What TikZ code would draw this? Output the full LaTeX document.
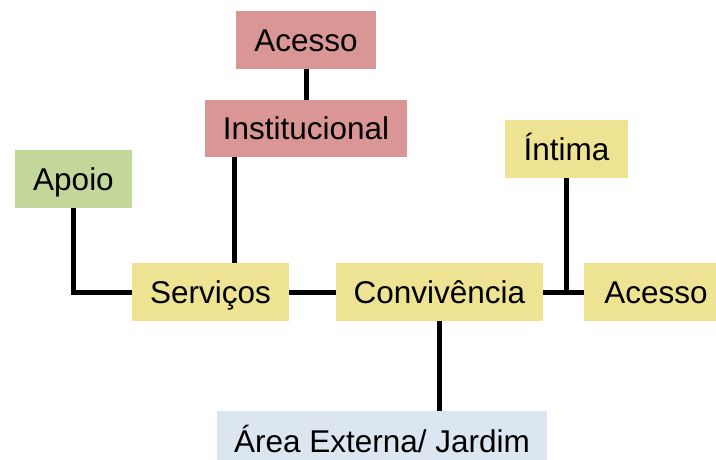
\documentclass[tikz,border=0pt]{standalone}
\usepackage{fontspec}
\setmainfont{Liberation Sans}
\usetikzlibrary{calc}

\definecolor{redbox}{HTML}{DA9694}
\definecolor{greenbox}{HTML}{C4D79B}
\definecolor{yellowbox}{HTML}{EEE392}
\definecolor{bluebox}{HTML}{DCE6F1}

\tikzset{
  area/.style={inner sep=0pt, text height=22.5pt, text depth=0pt,
    font=\fontsize{31.5}{36}\selectfont},
  link/.style={line width=5pt}
}

\begin{document}
\begin{tikzpicture}[x=1pt,y=-1pt]
      \useasboundingbox (0,0) rectangle (716,460);
      % boxes
      \node [area, fill=redbox, minimum width=140pt, minimum height=58pt] (acessoTop) at (306,40) {Acesso};
      \node [area, fill=redbox, minimum width=202pt, minimum height=57pt] (inst) at (306,128.5) {Institucional};
      \node [area, fill=greenbox, minimum width=117pt, minimum height=58pt] (apoio) at (73.5,179) {Apoio};
      \node [area, fill=yellowbox, minimum width=123pt, minimum height=58pt] (intima) at (566.5,149) {Íntima};
      \node [area, fill=yellowbox, minimum width=157pt, minimum height=58pt] (serv) at (210.5,292) {Serviços};
      \node [area, fill=yellowbox, minimum width=207pt, minimum height=58pt] (conv) at (439.5,292) {Convivência};
      \node [area, fill=yellowbox, minimum width=144pt, minimum height=58pt] (acessoRight) at (656,292) {Acesso};
      \node [area, fill=bluebox, minimum width=330pt, minimum height=60pt] (externa) at (382,441) {Área Externa/ Jardim};
      % links
      \draw [link] (acessoTop.south) -- (inst.north);
      \draw [link] ([xshift=-72pt]inst.south) -- ([xshift=-72pt]inst.south |- serv.north);
      \draw [link] (apoio.south) |- (serv.west);
      \draw [link] (serv.east) -- (conv.west);
      \draw [link] (conv.east) -- (acessoRight.west);
      \draw [link] (intima.south) -- (intima.south |- conv.east);
      \draw [link] (conv.south) -- (conv.south |- externa.north);
    \end{tikzpicture}
\end{document}
